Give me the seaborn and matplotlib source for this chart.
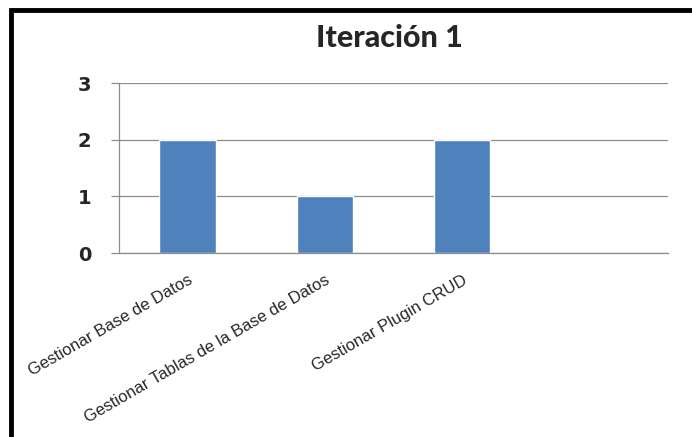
import matplotlib
matplotlib.use("Agg")
import matplotlib.pyplot as plt
import seaborn as sns
import pandas as pd
from matplotlib.patches import Rectangle

# datos
categorias = ["Gestionar Base de Datos", "Gestionar Tablas de la Base de Datos", "Gestionar Plugin CRUD", ""]
tareas = ["Gestionar Base de Datos", "Gestionar Tablas de la Base de Datos", "Gestionar Plugin CRUD"]
valores = [2, 1, 2]
yticks = [0, 1, 2, 3]
titulo = "Iteración 1"

df = pd.DataFrame({"tarea": tareas, "valor": valores})

sns.set_style("white")
plt.rcParams["font.family"] = ["Liberation Sans", "DejaVu Sans"]

fig = plt.figure(figsize=(6.92, 4.37), dpi=100)
ax = fig.add_axes([0.172, 0.421, 0.793, 0.389])

sns.barplot(data=df, x="tarea", y="valor", order=categorias, color="#4F81BD",
            saturation=1, width=0.41, ax=ax)

gris = "#8C8C8C"
ax.set_xlim(-0.5, 3.5)
ax.set_ylim(0, 3)
ax.set_yticks(yticks)
ax.set_yticklabels([str(t) for t in yticks], fontsize=14, fontweight="heavy",
                   family=["DejaVu Sans"])
ax.yaxis.grid(True, color=gris, linewidth=0.9)
ax.set_axisbelow(True)

ax.set_xticks(range(len(categorias)))
ax.set_xticklabels(categorias, rotation=30, ha="right", rotation_mode="anchor", fontsize=12)
ax.set_xticks([i - 0.5 for i in range(len(categorias) + 1)], minor=True)
ax.tick_params(axis="x", which="major", length=0, pad=14)
ax.tick_params(axis="x", which="minor", length=5, color=gris, width=0.9)
ax.tick_params(axis="y", length=6, color=gris, width=0.9, pad=14, left=True)

for s in ["top", "right"]:
    ax.spines[s].set_visible(False)
for s in ["left", "bottom"]:
    ax.spines[s].set_color(gris)
    ax.spines[s].set_linewidth(0.9)

ax.set_xlabel("")
ax.set_ylabel("")
fig.text(0.562, 0.913, titulo, ha="center", va="center", fontsize=22,
         fontweight="black", family=["Lato", "DejaVu Sans"])

# marco negro alrededor del gráfico
fig.patches.append(Rectangle((10.5 / 692, -0.1), 1.1, 1.1 - 9.5 / 437, transform=fig.transFigure,
                             fill=False, edgecolor="black", linewidth=3.5))

fig.savefig("out.png", dpi=100)
